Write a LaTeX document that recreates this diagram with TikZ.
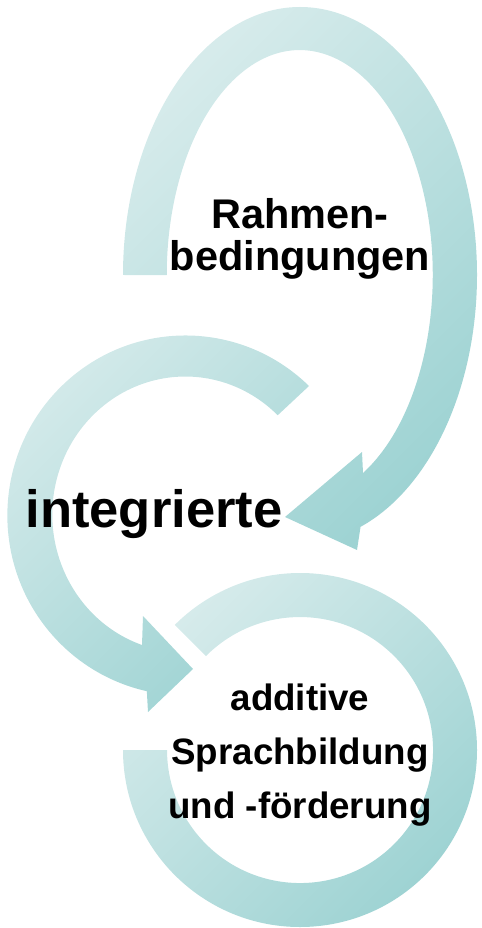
\documentclass[tikz,border=0pt]{standalone}
\usepackage{fontspec}
\setmainfont{Liberation Sans}
\definecolor{arrowlight}{RGB}{214,235,235}
\definecolor{arrowdark}{RGB}{158,211,211}
\begin{document}
\begin{tikzpicture}[x=0.02cm, y=-0.02cm,
    band/.style={top color=arrowlight, bottom color=arrowdark, shading angle=45},
    boldtext/.style={align=center, anchor=base}]
    \useasboundingbox (0,0) rectangle (482,928);
    % top loop
    \shade[band] (123,275) arc[start angle=180, end angle=430, x radius=177, y radius=268]
        -- (357,550) -- (285,517) -- (362,452) -- (363,473)
        arc[start angle=421.6, end angle=180, x radius=133, y radius=225] -- cycle;
    % middle loop
    \shade[band] (309,386) arc[start angle=314, end angle=102.5, x radius=178, y radius=180]
        -- (148,712) -- (193,669) -- (143,616) -- (142,645)
        arc[start angle=109, end angle=314, x radius=133, y radius=138] -- cycle;
    % bottom ring
    \shade[band] (123,750) arc[start angle=180, end angle=-135, radius=177]
        -- (206,656) arc[start angle=-135, end angle=180, radius=133] -- cycle;
    \node[boldtext, font=\bfseries\fontsize{23.6}{24.4}\selectfont] (rahmen) at (300,271) {Rahmen-\\bedingungen};
    \node[boldtext, font=\bfseries\fontsize{29.9}{32}\selectfont] (integr) at (154,527) {integrierte};
    \node[boldtext, font=\bfseries\fontsize{20.9}{30.5}\selectfont] (additiv) at (300,818) {additive\\Sprachbildung\\und -förderung};
\end{tikzpicture}
\end{document}
